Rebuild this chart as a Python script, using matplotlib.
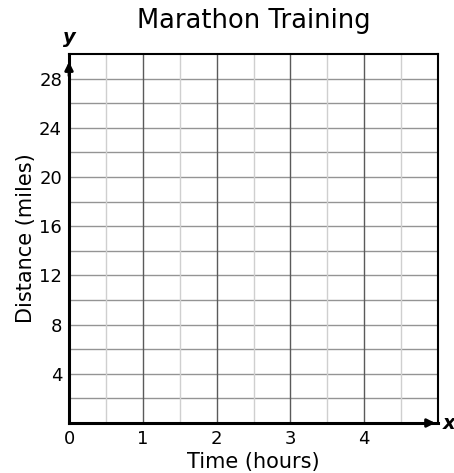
import numpy as np
import matplotlib.pyplot as plt

title = "Marathon Training"
x_label = "Time (hours)"
y_label = "Distance (miles)"
x_max = 5
y_max = 30
x_ticks = [0, 1, 2, 3, 4]
y_ticks = [4, 8, 12, 16, 20, 24, 28]
x_minor = [0.5, 1.5, 2.5, 3.5, 4.5]
y_grid = list(range(2, 30, 2))

fig = plt.figure(figsize=(4.54, 4.73), dpi=100)
ax = fig.add_axes([0.152, 0.1057, 0.813, 0.780])
ax.set_xlim(0, x_max)
ax.set_ylim(0, y_max)

# grid
for y in y_grid:
    ax.axhline(y, color="#949494", lw=1.0, zorder=1)
for x in x_minor:
    ax.axvline(x, color="#cfcfcf", lw=1.0, zorder=1)
for x in x_ticks[1:] + [x_max]:
    ax.axvline(x, color="#5a5a5a", lw=1.0, zorder=2)

for s in ["top", "right"]:
    ax.spines[s].set_linewidth(1.5)
for s in ["left", "bottom"]:
    ax.spines[s].set_linewidth(2.2)

ax.set_xticks(x_ticks)
ax.set_yticks(y_ticks)
ax.tick_params(length=0, labelsize=13, pad=5)
ax.set_xlabel(x_label, fontsize=15, labelpad=3)
ax.set_ylabel(y_label, fontsize=15, labelpad=2)
ax.set_title(title, fontsize=18.5, pad=19)

# axis arrows
ax.annotate("", xy=(x_max, 0), xytext=(x_max - 0.2, 0),
            arrowprops=dict(arrowstyle="-|>", color="black", lw=2, mutation_scale=12),
            annotation_clip=False)
ax.annotate("", xy=(0, y_max - 0.4), xytext=(0, y_max - 2),
            arrowprops=dict(arrowstyle="-|>", color="black", lw=2, mutation_scale=12),
            annotation_clip=False)
ax.text(x_max + 0.06, 0, "x", fontsize=14, fontweight="bold", style="italic",
        ha="left", va="center")
ax.text(0, y_max + 0.6, "y", fontsize=14, fontweight="bold", style="italic",
        ha="center", va="bottom")

fig.savefig("out.png", dpi=100)
